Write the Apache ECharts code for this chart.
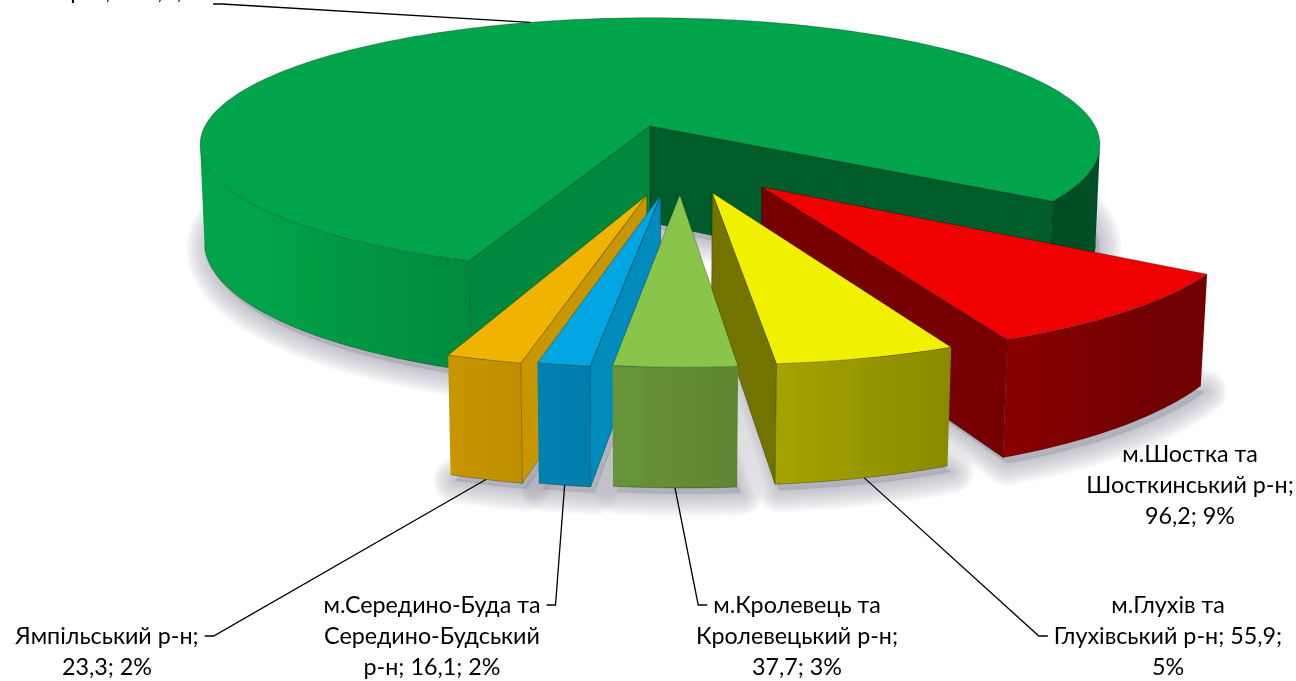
<!DOCTYPE html>
<html><head><meta charset="utf-8">
<script src="https://cdn.jsdelivr.net/npm/echarts@6/dist/echarts.min.js"></script>
<style>html,body{margin:0;padding:0;background:#fff}#c{width:1296px;height:681px}</style>
</head><body><div id="c"></div>
<script>
// ---------- data ----------
const categories = ['м.Суми та Сумський р-н', 'м.Шостка та Шосткинський р-н', 'м.Глухів та Глухівський р-н',
  'м.Кролевець та Кролевецький р-н', 'м.Середино-Буда та Середино-Будський р-н', 'Ямпільський р-н'];
const values = [846.9, 96.2, 55.9, 37.7, 16.1, 23.3];
const percentLabels = [79, 9, 5, 3, 2, 2];
const colors = ['#00B050', '#FF0000', '#FFFF00', '#92D050', '#00B0F0', '#FFC000'];

// ---------- style / layout ----------
const CAM = {elev: 16.2, dist: 6.53, focal: 2906, x0: 650, y0: 126};
const THICK = 0.228;
const START_ANGLE = 339.5;
const exploded = [false, true, true, true, true, true];
const EXPLODE = 0.515, EXPLODE_BEND = 0.49, EXPLODE_SKEW = 7.4;
const FONT_FAMILY = 'Lato, "Open Sans", sans-serif';
const LINE_H = 31;
const lineWords = [[2, 4], [2, 2, 2], [2, 3, 1], [2, 2, 2], [2, 1, 3], [2, 2]];
const labelLayout = [
  {cx: null, base: -31, tailX: 108, stub: [[213, 4], [222, 4]]},
  {cx: 1190, base: 463},
  {cx: 1168, base: 614, line: 1, side: 'left'},
  {cx: 797, base: 614, line: 0, side: 'left'},
  {cx: 432, base: 614, line: 0, side: 'right'},
  {cx: 107, base: 645, line: 0, side: 'right'}
];

// ---------- helpers ----------
const rad = d => d * Math.PI / 180;
const clamp = (x, a, b) => Math.max(a, Math.min(b, x));
const ca = Math.cos(rad(CAM.elev)), sa = Math.sin(rad(CAM.elev));
const CAMV = CAM.dist * ca, CAMW = CAM.dist * sa;
function proj(u, v, w) {
  const z = CAM.dist - v * ca - w * sa;
  return [CAM.x0 + CAM.focal * u / z, CAM.y0 + CAM.focal * (v * sa - w * ca) / z];
}
function rgb(hex) { const n = parseInt(hex.slice(1), 16); return [(n >> 16) & 255, (n >> 8) & 255, n & 255]; }
function shade(hex, f) {
  const c = rgb(hex);
  return 'rgb(' + Math.round(c[0] * f) + ',' + Math.round(c[1] * f) + ',' + Math.round(c[2] * f) + ')';
}
const mctx = document.createElement('canvas').getContext('2d');
function measure(t, fs) { mctx.font = fs + 'px ' + FONT_FAMILY; return mctx.measureText(t).width; }
// calibrate font size to the reference widths of a few label lines
const CAL = [['Ямпільський р-н;', 191], ['Шосткинський р-н;', 192], ['Глухівський р-н; 55,9;', 247], ['м.Кролевець та', 157]];
const FS = clamp(23 * CAL.reduce((s, c) => s + c[1], 0) / CAL.reduce((s, c) => s + measure(c[0], 23), 0), 18, 26);
const fmt = v => v.toFixed(1).replace('.', ',');

// ---------- geometry from data ----------
const total = values.reduce((a, b) => a + b, 0);
let cur = START_ANGLE;
const geo = values.map((v, i) => {
  const span = 360 * v / total;
  const t2 = cur, t1 = cur - span; cur = t1;
  const mid = (t1 + t2) / 2;
  const m = ((mid + 180) % 360 + 360) % 360 - 180;
  let ou = 0, ov = 0;
  if (exploded[i]) {
    const oa = rad(EXPLODE_BEND * m + EXPLODE_SKEW);
    ou = EXPLODE * Math.sin(oa); ov = EXPLODE * Math.cos(oa);
  }
  const half = rad(span / 2);
  const rc = (2 / 3) * Math.sin(half) / half;
  const cu = ou + rc * Math.sin(rad(mid)), cv = ov + rc * Math.cos(rad(mid));
  const dist = Math.hypot(cu, cv - CAMV, -THICK / 2 - CAMW);
  return {t1, t2, mid, ou, ov, dist};
});
const order = geo.map((g, i) => i).sort((a, b) => geo[b].dist - geo[a].dist);
const rank = []; order.forEach((idx, r) => rank[idx] = r);

function labelLines(i) {
  const text = categories[i] + '; ' + fmt(values[i]) + '; ' + percentLabels[i] + '%';
  const words = text.split(' ');
  const out = []; let p = 0;
  lineWords[i].forEach(n => { out.push(words.slice(p, p + n).join(' ')); p += n; });
  if (p < words.length) out[out.length - 1] += ' ' + words.slice(p).join(' ');
  return out;
}

function buildSlice(i) {
  const g = geo[i], col = colors[i];
  const P = (th, r, w) => proj(g.ou + r * Math.sin(rad(th)), g.ov + r * Math.cos(rad(th)), w);
  const apexT = proj(g.ou, g.ov, 0), apexB = proj(g.ou, g.ov, -THICK);
  const N = Math.max(3, Math.ceil((g.t2 - g.t1) / 1.2));
  const ths = [];
  for (let k = 0; k <= N; k++) ths.push(g.t1 + (g.t2 - g.t1) * k / N);
  const topArc = ths.map(t => P(t, 1, 0)), botArc = ths.map(t => P(t, 1, -THICK));
  const zb = 10 + rank[i] * 10;
  const edge = 'rgba(0,0,0,0.35)';
  const ch = [];
  // soft floor shadow (layered strokes give a blurred edge)
  const sh = [apexB].concat(botArc).map(p => [p[0] + 4, p[1] + 6]);
  for (let j = 8; j >= 0; j--) {
    ch.push({type: 'polygon', silent: true, z2: 1, shape: {points: sh},
      style: {fill: j === 0 ? 'rgba(120,120,135,0.3)' : null, stroke: 'rgba(120,120,135,0.06)',
        lineWidth: 4 + j * 5, lineJoin: 'round'}});
  }
  const vis = (nu, nv, pu, pv) => nu * (0 - pu) + nv * (CAMV - pv) > 0;
  // outer wall: contiguous visible runs, horizontally shaded gradient
  const runs = []; let run = null;
  for (let k = 0; k < N; k++) {
    const thm = rad((ths[k] + ths[k + 1]) / 2);
    const nu = Math.sin(thm), nv = Math.cos(thm);
    if (vis(nu, nv, g.ou + nu, g.ov + nv)) {
      if (!run) { run = {k0: k, k1: k, f: []}; }
      run.k1 = k + 1;
      run.f.push([(topArc[k][0] + topArc[k + 1][0]) / 2, clamp(0.67 - 0.32 * nu, 0.45, 0.92)]);
    } else if (run) { runs.push(run); run = null; }
  }
  if (run) runs.push(run);
  runs.forEach(r => {
    const top = topArc.slice(r.k0, r.k1 + 1), bot = botArc.slice(r.k0, r.k1 + 1);
    const xa = top[0][0], xb = top[top.length - 1][0];
    const span = Math.max(1, xb - xa);
    const stops = r.f.map(([x, f]) => ({offset: clamp((x - xa) / span, 0, 1), color: shade(col, f)}));
    const fill = {type: 'linear', x: xa, y: 0, x2: xa + span, y2: 0, global: true, colorStops: stops};
    ch.push({type: 'polygon', z2: zb + 1, shape: {points: top.concat(bot.slice().reverse())},
      style: {fill: fill, stroke: null}});
    ch.push({type: 'polyline', z2: zb + 2, shape: {points: bot}, style: {stroke: edge, lineWidth: 0.8, fill: null}});
  });
  // cut faces
  [[g.t1, -1], [g.t2, 1]].forEach(([t, s]) => {
    const tr = rad(t);
    const nu = s * Math.cos(tr), nv = -s * Math.sin(tr);
    if (vis(nu, nv, g.ou, g.ov)) {
      const f = clamp(0.62 + 0.17 * nu, 0.42, 0.85);
      ch.push({type: 'polygon', z2: zb + 3, shape: {points: [apexT, P(t, 1, 0), P(t, 1, -THICK), apexB]},
        style: {fill: shade(col, f), stroke: edge, lineWidth: 0.8}});
    }
  });
  // top face
  ch.push({type: 'polygon', z2: zb + 5, shape: {points: [apexT].concat(topArc)},
    style: {fill: shade(col, 0.94), stroke: edge, lineWidth: 0.8}});

  // label
  const L = labelLayout[i];
  const lines = labelLines(i);
  const font = FS + 'px ' + FONT_FAMILY;
  let cx = L.cx;
  if (cx === null) {
    const last = lines[lines.length - 1];
    const semi = last.indexOf(';');
    const wPre = measure(last.slice(0, semi), FS), wSemi = measure(';', FS), wL = measure(last, FS);
    cx = L.tailX - wPre - wSemi / 2 + wL / 2;
  }
  lines.forEach((ln, k) => {
    ch.push({type: 'text', z2: 2000, x: cx, y: L.base + k * LINE_H - 0.36 * FS,
      style: {text: ln, font: font, fill: '#000', align: 'center', verticalAlign: 'middle'}});
  });
  let stub = null;
  if (L.stub) stub = L.stub;
  else if (L.side) {
    const w = measure(lines[L.line], FS);
    const y = L.base + L.line * LINE_H - 9;
    if (L.side === 'right') stub = [[cx + w / 2 + 6, y], [cx + w / 2 + 15, y]];
    else stub = [[cx - w / 2 - 6, y], [cx - w / 2 - 15, y]];
  }
  if (stub) {
    const anchor = i === 0 ? P(g.mid, 1, 0) : P(g.mid, 1, -THICK);
    ch.push({type: 'polyline', z2: 1999, shape: {points: stub.concat([anchor])},
      style: {stroke: '#000', lineWidth: 1.3, fill: null}});
  }
  return {type: 'group', children: ch};
}

const chart = echarts.init(document.getElementById('c'), null, {renderer: 'canvas'});
chart.setOption({
  animation: false,
  series: [{
    type: 'custom',
    coordinateSystem: 'none',
    data: values.map((v, i) => [i, v]),
    renderItem: (params) => buildSlice(params.dataIndex)
  }]
});
</script>
</body></html>
